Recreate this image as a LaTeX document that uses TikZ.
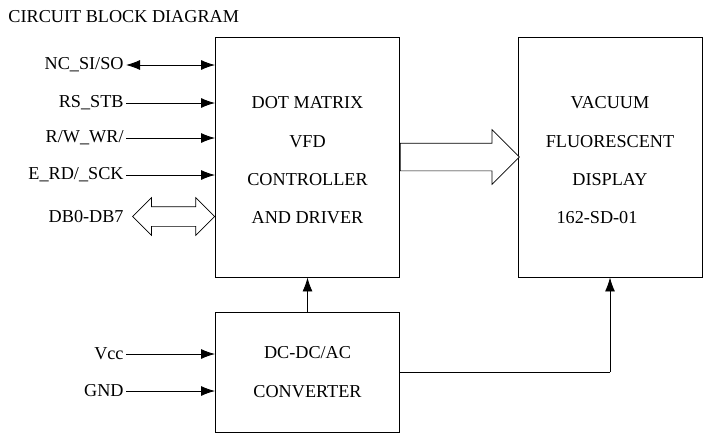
\documentclass[tikz,border=0pt]{standalone}
\usepackage{fontspec}
\setmainfont{Liberation Serif}
\usetikzlibrary{arrows.meta,shapes.arrows,positioning}

\begin{document}
\begin{tikzpicture}[x=1pt,y=-1pt,>={Latex[length=14pt,width=10pt]},
                    font=\fontsize{18.2}{38.3}\selectfont,line width=0.9pt]
	\tikzstyle{block}=[draw,inner sep=0pt,minimum width=184pt]
	\tikzstyle{inside}=[align=center,inner sep=0pt,yshift=-3.5pt]
	\tikzstyle{pin}=[anchor=east,inner sep=2pt]
	\tikzstyle{fat}=[draw,fill=white,inner xsep=0pt,line width=0.7pt]
	\useasboundingbox (0,0) rectangle (712,445);

	\node[anchor=west,inner sep=0pt] (title) at (8,17) {CIRCUIT BLOCK DIAGRAM};

	\node[block,minimum height=240pt] (ctrl) at (307.5,157) {};
	\node[block,minimum height=240pt] (disp) at (610,157) {};
	\node[block,minimum height=120pt,align=center] (conv) at (307.5,372)
		{DC-DC/AC \\ CONVERTER};
	\node[inside] (ctrltext) at (ctrl.center)
		{DOT MATRIX \\ VFD \\ CONTROLLER \\ AND DRIVER};
	\node[inside] (disptext) at (disp.center)
		{VACUUM \\ FLUORESCENT \\ DISPLAY \\ 162-SD-01\hspace*{26pt}};

	\node[pin] (nc)  at (126,65)  {NC\_SI/SO};
	\node[pin] (rs)  at (126,103) {RS\_STB};
	\node[pin] (rw)  at (126,138) {R/W\_WR/};
	\node[pin] (e)   at (126,175) {E\_RD/\_SCK};
	\node[pin] (db)  at (126,217) {DB0-DB7};
	\node[pin] (vcc) at (126,354) {Vcc};
	\node[pin] (gnd) at (126,391) {GND};

	\coordinate (pwr) at (610,372);

	\path[draw] (nc.east)  edge [<->] (ctrl.west |- nc)
				(rs.east)  edge [->]  (ctrl.west |- rs)
				(rw.east)  edge [->]  (ctrl.west |- rw)
				(e.east)   edge [->]  (ctrl.west |- e)
				(vcc.east) edge [->]  (conv.west |- vcc)
				(gnd.east) edge [->]  (conv.west |- gnd)
				(conv.north) edge [->] (ctrl.south)
				(conv.east |- pwr) -- (pwr) edge [->] (disp.south);

	% bus arrows
	\node[fat,double arrow,inner ysep=9.5pt,minimum height=82pt,
		double arrow head extend=9pt,anchor=east] (bus) at (ctrl.west |- 0,216.5) {};
	\node[fat,single arrow,inner ysep=13.5pt,minimum height=119pt,
		single arrow head extend=13.5pt,anchor=west] (data) at (ctrl.east |- 0,157) {};
\end{tikzpicture}
\end{document}
